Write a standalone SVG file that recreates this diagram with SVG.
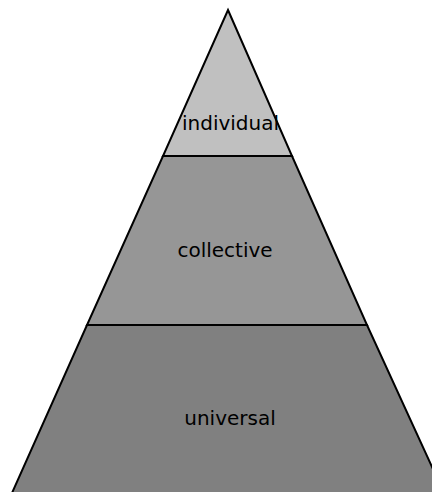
<svg xmlns="http://www.w3.org/2000/svg" width="432" height="492" viewBox="0 0 432 492">
<style>
.tier{stroke:#000;stroke-width:2;stroke-linejoin:miter}
.lbl{font-family:"DejaVu Sans",sans-serif;font-size:20px;fill:#000;text-anchor:middle}
</style>
<rect width="432" height="492" fill="#fff"/>
<g id="universal">
<polygon class="tier" fill="#808080" points="87,325 367,325 444,493 12,493"/>
<text class="lbl" x="230" y="425">universal</text>
</g>
<g id="collective">
<polygon class="tier" fill="#969696" points="163,156 292,156 367,325 87,325"/>
<text class="lbl" x="225" y="257">collective</text>
</g>
<g id="individual">
<polygon class="tier" fill="#c0c0c0" points="228,10 292,156 163,156"/>
<text class="lbl" x="230.5" y="130">individual</text>
</g>
<g id="connectors"/>
</svg>
